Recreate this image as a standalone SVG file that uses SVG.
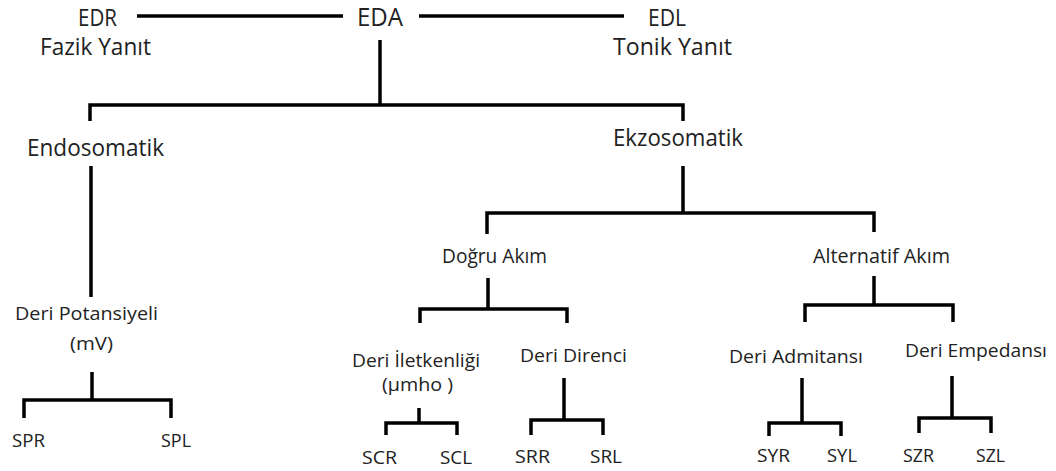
<svg xmlns="http://www.w3.org/2000/svg" width="1056" height="471" viewBox="0 0 1056 471">
<style>
text{font-family:"Open Sans","Liberation Sans",sans-serif;fill:#222;text-anchor:middle}
.l{fill:none;stroke:#000;stroke-width:3.5;stroke-linejoin:miter}
.t1{font-size:23px}
.t0{font-size:26px}
.t2{font-size:19.5px}
.t3{font-size:18.5px}
.t4{font-size:17.5px}
</style>
<rect width="1056" height="471" fill="#fff"/>
<g id="connectors">
<path class="l" d="M137,16H343M419,16H624"/>
<path class="l" d="M380,40V105"/>
<path class="l" d="M90,121V105H683V121"/>
<path class="l" d="M91,166V297"/>
<path class="l" d="M683,166V213"/>
<path class="l" d="M487,234V213H874V232"/>
<path class="l" d="M488,278V309"/>
<path class="l" d="M420,323V309H567V323"/>
<path class="l" d="M874,276V305"/>
<path class="l" d="M805,322V305H953V322"/>
<path class="l" d="M92,372V400"/>
<path class="l" d="M24,418V400H171V418"/>
<path class="l" d="M419,408V423"/>
<path class="l" d="M386,435V423H457V435"/>
<path class="l" d="M564,378V420"/>
<path class="l" d="M531,435V420H603V435"/>
<path class="l" d="M802,378V423"/>
<path class="l" d="M769,436V423H841V436"/>
<path class="l" d="M952,376V418"/>
<path class="l" d="M919,433V418H991V433"/>
</g>
<g id="eda"><text class="t0" x="380" y="26" textLength="46" lengthAdjust="spacingAndGlyphs">EDA</text></g>
<g id="edr"><text class="t1" x="97.5" y="26" textLength="39" lengthAdjust="spacingAndGlyphs">EDR</text><text class="t1" x="95.5" y="55" textLength="111" lengthAdjust="spacingAndGlyphs">Fazik Yanıt</text></g>
<g id="edl"><text class="t1" x="667" y="26" textLength="38" lengthAdjust="spacingAndGlyphs">EDL</text><text class="t1" x="672.5" y="55" textLength="119" lengthAdjust="spacingAndGlyphs">Tonik Yanıt</text></g>
<g id="endosomatik"><text class="t1" x="95.5" y="156" textLength="137" lengthAdjust="spacingAndGlyphs">Endosomatik</text></g>
<g id="ekzosomatik"><text class="t1" x="678" y="146" textLength="130" lengthAdjust="spacingAndGlyphs">Ekzosomatik</text></g>
<g id="dogru-akim"><text class="t2" x="494.5" y="263" textLength="105" lengthAdjust="spacingAndGlyphs">Doğru Akım</text></g>
<g id="alternatif-akim"><text class="t2" x="881.5" y="263" textLength="137" lengthAdjust="spacingAndGlyphs">Alternatif Akım</text></g>
<g id="deri-potansiyeli"><text class="t3" x="86.5" y="320" textLength="143" lengthAdjust="spacingAndGlyphs">Deri Potansiyeli</text><text class="t3" x="91.5" y="350" textLength="43" lengthAdjust="spacingAndGlyphs">(mV)</text></g>
<g id="deri-iletkenligi"><text class="t3" x="416" y="367" textLength="128" lengthAdjust="spacingAndGlyphs">Deri İletkenliği</text><text class="t3" x="417.5" y="391" textLength="71" lengthAdjust="spacingAndGlyphs">(µmho )</text></g>
<g id="deri-direnci"><text class="t3" x="573.5" y="362" textLength="107" lengthAdjust="spacingAndGlyphs">Deri Direnci</text></g>
<g id="deri-admitansi"><text class="t3" x="796" y="363" textLength="134" lengthAdjust="spacingAndGlyphs">Deri Admitansı</text></g>
<g id="deri-empedansi"><text class="t3" x="976" y="357" textLength="142" lengthAdjust="spacingAndGlyphs">Deri Empedansı</text></g>
<g id="spr"><text class="t4" x="28.5" y="447" textLength="33" lengthAdjust="spacingAndGlyphs">SPR</text></g>
<g id="spl"><text class="t4" x="176" y="447" textLength="30" lengthAdjust="spacingAndGlyphs">SPL</text></g>
<g id="scr"><text class="t4" x="379.5" y="464" textLength="35" lengthAdjust="spacingAndGlyphs">SCR</text></g>
<g id="scl"><text class="t4" x="456" y="464" textLength="32" lengthAdjust="spacingAndGlyphs">SCL</text></g>
<g id="srr"><text class="t4" x="532.5" y="463" textLength="35" lengthAdjust="spacingAndGlyphs">SRR</text></g>
<g id="srl"><text class="t4" x="606" y="463" textLength="32" lengthAdjust="spacingAndGlyphs">SRL</text></g>
<g id="syr"><text class="t4" x="773.5" y="462" textLength="33" lengthAdjust="spacingAndGlyphs">SYR</text></g>
<g id="syl"><text class="t4" x="842" y="462" textLength="30" lengthAdjust="spacingAndGlyphs">SYL</text></g>
<g id="szr"><text class="t4" x="918.5" y="462" textLength="31" lengthAdjust="spacingAndGlyphs">SZR</text></g>
<g id="szl"><text class="t4" x="990.5" y="462" textLength="29" lengthAdjust="spacingAndGlyphs">SZL</text></g>
</svg>
